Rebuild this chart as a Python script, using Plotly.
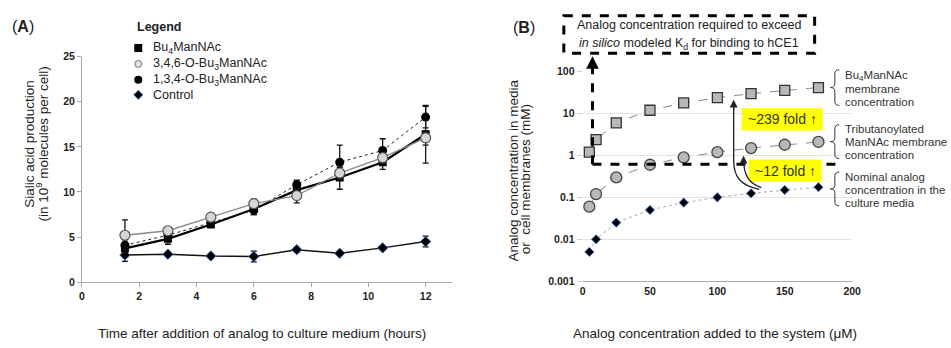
import plotly.graph_objects as go

# ---------------- data: panel A ----------------
time_h = [1.5, 3, 4.5, 6, 7.5, 9, 10.5, 12]
bu4 = [3.75, 4.8, 6.4, 8.1, 10.2, 11.6, 13.3, 16.4]
bu4_err = [0.5, 0.6, 0.3, 0.6, 0.5, 1.3, 0.8, 3.2]
tri346 = [5.2, 5.7, 7.2, 8.7, 9.6, 12.1, 13.8, 16.0]
tri346_err = [1.7, 0.3, 0.3, 0.5, 0.8, 0.6, 0.6, 0.8]
tri134 = [4.1, 5.2, 6.6, 8.0, 10.8, 13.3, 14.6, 18.3]
tri134_err = [0.6, 0.4, 0.4, 0.5, 0.5, 1.9, 1.3, 1.2]
control = [3.0, 3.1, 2.9, 2.85, 3.6, 3.2, 3.8, 4.5]
control_err = [0.7, 0.2, 0.2, 0.6, 0.2, 0.2, 0.2, 0.6]
legend_labels = ["Bu<sub>4</sub>ManNAc", "3,4,6-O-Bu<sub>3</sub>ManNAc",
                 "1,3,4-O-Bu<sub>3</sub>ManNAc", "Control"]

# ---------------- data: panel B ----------------
added_uM = [5, 10, 25, 50, 75, 100, 125, 150, 175]
nominal_mM = [0.005, 0.01, 0.025, 0.05, 0.075, 0.1, 0.125, 0.15, 0.175]
bu4_membrane_mM = [1.2, 2.4, 6.0, 12.0, 17.9, 23.9, 29.9, 35.9, 41.8]
tri_membrane_mM = [0.06, 0.12, 0.30, 0.60, 0.90, 1.20, 1.50, 1.80, 2.10]
logB_ticks = [0.001, 0.01, 0.1, 1, 10, 100]
logB_ticktext = ["0.001", "0.01", "0.1", "1", "10", "100"]

FONT = "Liberation Sans, Arial, sans-serif"
W, H = 951, 348

fig = go.Figure()

def eb(err):
    return dict(type="data", array=err, color="#111", thickness=1.3, width=3)

# panel A traces
fig.add_trace(go.Scatter(x=time_h, y=control, error_y=eb(control_err), mode="lines+markers",
                         line=dict(color="#111", width=1.5),
                         marker=dict(symbol="diamond", size=8, color="#000", line=dict(color="#3a6fc4", width=1)),
                         showlegend=False, xaxis="x", yaxis="y"))
fig.add_trace(go.Scatter(x=time_h, y=bu4, error_y=eb(bu4_err), mode="lines+markers",
                         line=dict(color="#000", width=2.2),
                         marker=dict(symbol="square", size=8, color="#000"),
                         showlegend=False, xaxis="x", yaxis="y"))
fig.add_trace(go.Scatter(x=time_h, y=tri134, error_y=eb(tri134_err), mode="lines+markers",
                         line=dict(color="#222", width=1, dash="dot"),
                         marker=dict(symbol="circle", size=9, color="#000"),
                         showlegend=False, xaxis="x", yaxis="y"))
fig.add_trace(go.Scatter(x=time_h, y=tri346, error_y=eb(tri346_err), mode="lines+markers",
                         line=dict(color="#8a8a8a", width=1.3),
                         marker=dict(symbol="circle", size=10, color="#d6d6d6", line=dict(color="#555", width=1.2)),
                         showlegend=False, xaxis="x", yaxis="y"))

# panel B traces
fig.add_trace(go.Scatter(x=added_uM, y=nominal_mM, mode="lines+markers",
                         line=dict(color="#aaaaaa", width=1, dash="dot"),
                         marker=dict(symbol="diamond", size=7, color="#000", line=dict(color="#3a6fc4", width=1)),
                         showlegend=False, xaxis="x2", yaxis="y2"))
fig.add_trace(go.Scatter(x=added_uM, y=tri_membrane_mM, mode="lines+markers",
                         line=dict(color="#888", width=1, dash="dash"),
                         marker=dict(symbol="circle", size=11, color="#b8b8b8", line=dict(color="#444", width=1.3)),
                         showlegend=False, xaxis="x2", yaxis="y2"))
fig.add_trace(go.Scatter(x=added_uM, y=bu4_membrane_mM, mode="lines+markers",
                         line=dict(color="#888", width=1, dash="dash"),
                         marker=dict(symbol="square", size=10, color="#b8b8b8", line=dict(color="#333", width=1.3)),
                         showlegend=False, xaxis="x2", yaxis="y2"))

# legend markers (pixel overlay axis x3/y3)
leg_y = [43.5, 60, 76.5, 92]
leg_sym = [dict(symbol="square", size=8, color="#000"),
           dict(symbol="circle", size=7, color="#e0e0e0", line=dict(color="#777", width=1)),
           dict(symbol="circle", size=8, color="#000"),
           dict(symbol="diamond", size=7, color="#000", line=dict(color="#3a6fc4", width=1))]
for yy, ms in zip(leg_y, leg_sym):
    fig.add_trace(go.Scatter(x=[137], y=[yy], mode="markers", marker=ms, showlegend=False,
                             hoverinfo="skip", xaxis="x3", yaxis="y3"))

tickf = dict(family=FONT, size=10.5, color="#222", weight="bold")
fig.update_layout(
    width=W, height=H, autosize=False,
    margin=dict(l=0, r=0, t=0, b=0),
    paper_bgcolor="white", plot_bgcolor="rgba(0,0,0,0)",
    font=dict(family=FONT, color="#222"),
    xaxis=dict(domain=[80 / W, 455 / W], range=[0, 12.93], anchor="y", tick0=0, dtick=2,
               showline=True, linecolor="#a8a8a8", ticks="outside", ticklen=4, tickcolor="#a8a8a8",
               showgrid=False, zeroline=False, tickfont=tickf),
    yaxis=dict(domain=[(H - 286) / H, (H - 52.5) / H], range=[0, 25], anchor="x", tick0=0, dtick=5,
               showline=True, linecolor="#a8a8a8", ticks="outside", ticklen=4, tickcolor="#a8a8a8",
               showgrid=False, zeroline=False, tickfont=tickf),
    xaxis2=dict(domain=[587 / W, 860 / W], range=[0, 200], anchor="y2", tick0=0, dtick=50,
                showline=True, linecolor="#a8a8a8", ticks="", showgrid=False, zeroline=False, tickfont=tickf),
    yaxis2=dict(type="log", domain=[(H - 285) / H, (H - 68) / H], range=[-3, 2], anchor="x2",
                tickvals=logB_ticks, ticktext=logB_ticktext, showline=False,
                ticks="outside", ticklen=5, tickcolor="#d0d0d0",
                showgrid=True, gridcolor="#e2e2e2", zeroline=False, tickfont=tickf),
    xaxis3=dict(domain=[0, 1], range=[0, W], anchor="y3", visible=False, fixedrange=True),
    yaxis3=dict(domain=[0, 1], range=[H, 0], anchor="x3", visible=False, fixedrange=True),
)

ann = []
def txt(x, y, t, size=12, xa="left", ya="middle", color="#222", angle=0, align="left"):
    ann.append(dict(x=x, y=y, xref="x3", yref="y3", text=t, showarrow=False, xanchor=xa, yanchor=ya,
                    font=dict(family=FONT, size=size, color=color), textangle=angle, align=align))

# panel labels
txt(20, 21, "(<b>A</b>)", size=16, xa="center")
txt(528, 22, "(<b>B</b>)", size=16, xa="center")

# legend
txt(134, 22, "<b>Legend</b>", size=12.5)
for yy, lab in zip(leg_y, legend_labels):
    txt(150, yy, lab, size=12.5)

# axis titles
txt(26, 143, "Sialic acid production", size=13.5, xa="center", angle=-90)
txt(40, 143, "(in 10<sup>9</sup> molecules per cell)", size=13.5, xa="center", angle=-90)
txt(262, 339, "Time after addition of analog to culture medium (hours)", size=13.5, xa="center")
txt(517, 170, "Analog concentration in media", size=13.5, xa="center", angle=-90)
txt(530, 179, "or\u00a0 cell membranes (mM)", size=13.5, xa="center", angle=-90)
txt(721, 339, "Analog concentration added to the system (\u03bcM)", size=13.5, xa="center")

# box text
txt(695, 20, "Analog concentration required to exceed", size=12.5, xa="center")
txt(695, 39, "<i>in silico</i> modeled K<sub>d</sub> for binding to hCE1", size=12.5, xa="center")

# yellow boxes text
txt(789, 117.5, "~239 fold \u2191", size=14, xa="center", color="#333")
txt(792, 170.5, "~12 fold \u2191", size=14, xa="center", color="#333")

# brace labels
for y0, lines in [(72, ["Bu<sub>4</sub>ManNAc", "membrane", "concentration"]),
                  (127, ["Tributanoylated", "ManNAc membrane", "concentration"]),
                  (177, ["Nominal analog", "concentration in the", "culture media"])]:
    for i, l in enumerate(lines):
        txt(851, y0 + i * 13.5, l, size=11.5, color="#333")

# arrowheads
def arrowhead(x, y, ay, width=1.2, size=1.0, color="#222"):
    ann.append(dict(x=x, y=y, xref="x3", yref="y3", ax=0, ay=ay, axref="pixel", ayref="pixel",
                    text="", showarrow=True, arrowhead=2, arrowsize=size, arrowwidth=width,
                    arrowcolor=color))
arrowhead(597, 52, 14, width=2.8, size=0.9, color="#000")
arrowhead(740, 97, 12, width=1.3, size=1.2)
arrowhead(750, 155, 10, width=1.3, size=1.2)

shapes = []
def shp(**kw):
    d = dict(xref="x3", yref="y3")
    d.update(kw)
    shapes.append(d)

# dashed box + dashed L arrow
shp(type="rect", x0=568, x1=822, y0=10, y1=49, line=dict(color="#000", width=3, dash="dash"))
shp(type="line", x0=597, x1=843, y0=164, y1=164, line=dict(color="#000", width=3, dash="dash"))
shp(type="line", x0=597, x1=597, y0=164, y1=62, line=dict(color="#000", width=3, dash="dash"))

# yellow boxes
shp(type="rect", x0=748, x1=830, y0=106, y1=129, fillcolor="#ffff00", line=dict(width=0), layer="above")
shp(type="rect", x0=755, x1=829, y0=159, y1=182, fillcolor="#ffff00", line=dict(width=0), layer="above")

# curved arrows
shp(type="path", path="M 766 190 C 748 186 740 178 740 160 L 740 100", line=dict(color="#222", width=1.3))
shp(type="path", path="M 768 188 C 756 184 750 176 750 158", line=dict(color="#222", width=1.3))

# braces
def brace(xt, yt, yb, w=9, r=4):
    xm = xt + w / 2
    xr = xt + w
    ym = (yt + yb) / 2
    return (f"M {xr} {yt} Q {xm} {yt} {xm} {yt + r} L {xm} {ym - r} Q {xm} {ym} {xt} {ym} "
            f"Q {xm} {ym} {xm} {ym + r} L {xm} {yb - r} Q {xm} {yb} {xr} {yb}")
for yt, yb in [(66, 103), (123, 158), (172, 207)]:
    shp(type="path", path=brace(838, yt, yb), line=dict(color="#333", width=1))

fig.update_layout(annotations=ann, shapes=shapes)
fig.write_html("out.html", config={"displayModeBar": False},
               post_script="document.body.style.margin='0';document.body.style.overflow='hidden';")
